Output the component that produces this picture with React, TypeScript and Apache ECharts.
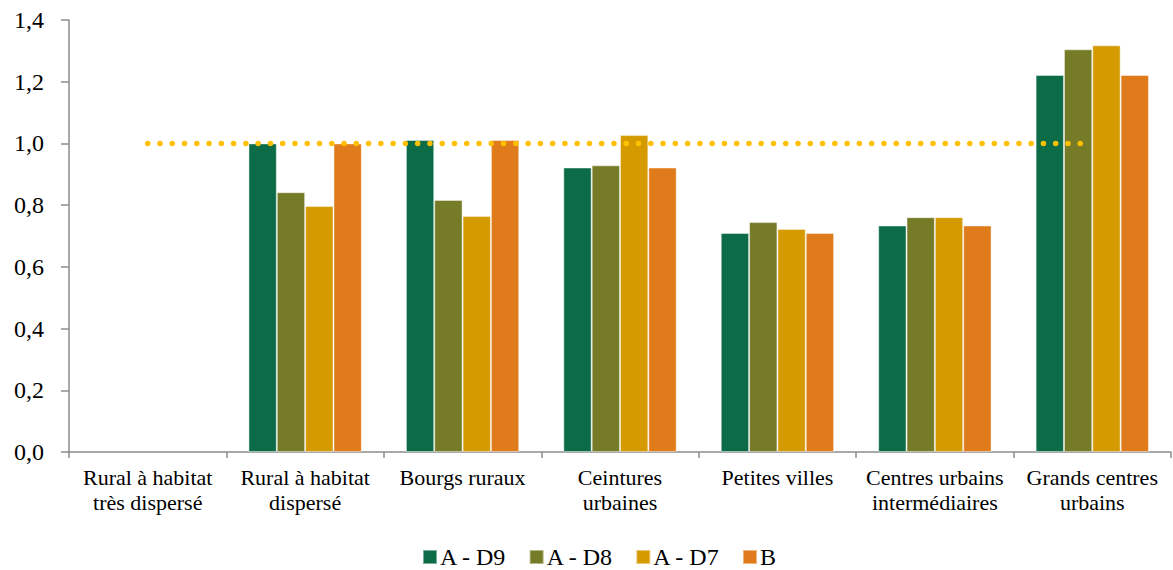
import React, { useEffect, useRef } from "react";
import * as echarts from "echarts";

const categories = [
  "Rural à habitat\ntrès dispersé",
  "Rural à habitat\ndispersé",
  "Bourgs ruraux",
  "Ceintures\nurbaines",
  "Petites villes",
  "Centres urbains\nintermédiaires",
  "Grands centres\nurbains",
];
const seriesNames = ["A - D9", "A - D8", "A - D7", "B"];
const valuesD9 = [null, 1.0, 1.011, 0.922, 0.71, 0.734, 1.222];
const valuesD8 = [null, 0.842, 0.817, 0.929, 0.745, 0.761, 1.305];
const valuesD7 = [null, 0.797, 0.765, 1.027, 0.723, 0.761, 1.318];
const valuesB = [null, 1.0, 1.011, 0.922, 0.71, 0.734, 1.222];
const referenceLine = [1, 1, 1, 1, 1, 1, 1];
const colors = ["#0B6C47", "#757B27", "#D49A00", "#E07B1B"];

export default function App() {
  const ref = useRef<HTMLDivElement>(null);
  useEffect(() => {
    if (!ref.current) return;
    const chart = echarts.init(ref.current, undefined, { renderer: "svg" });
    const font = "'Liberation Serif', 'Times New Roman', serif";
    const data = [valuesD9, valuesD8, valuesD7, valuesB];
    chart.setOption({
      animation: false,
      textStyle: { fontFamily: font },
      grid: { left: 69, right: 2, top: 20, bottom: 118, containLabel: false },
      legend: {
        data: seriesNames,
        left: 417,
        top: 540,
        icon: "rect",
        itemWidth: 14,
        itemHeight: 14,
        itemGap: 22,
        textStyle: { fontFamily: font, fontSize: 24, color: "#000", padding: [0, 0, 0, -2] },
      },
      xAxis: {
        type: "category",
        data: categories,
        boundaryGap: true,
        axisLine: { lineStyle: { color: "#8C8C8C", width: 1.5 } },
        axisTick: { show: true, length: 6, lineStyle: { color: "#8C8C8C", width: 1.5 } },
        axisLabel: {
          interval: 0,
          margin: 13,
          fontSize: 22,
          lineHeight: 25,
          color: "#000",
          fontFamily: font,
        },
        splitLine: { show: false },
      },
      yAxis: {
        type: "value",
        min: 0,
        max: 1.4,
        interval: 0.2,
        axisLine: { show: true, lineStyle: { color: "#8C8C8C", width: 1.5 } },
        axisTick: { show: true, length: 8, lineStyle: { color: "#8C8C8C", width: 1.5 } },
        axisLabel: {
          margin: 25,
          fontSize: 24,
          color: "#000",
          fontFamily: font,
          formatter: (v: number) => v.toFixed(1).replace(".", ","),
        },
        splitLine: { show: false },
      },
      series: [
        ...seriesNames.map((name, i) => ({
          name,
          type: "bar",
          data: data[i],
          barGap: "0%",
          barCategoryGap: "28%",
          itemStyle: {
            color: colors[i],
            borderColor: "rgba(255,255,255,0.45)",
            borderWidth: 1,
          },
        })),
        {
          name: "Référence",
          type: "line",
          data: referenceLine,
          symbol: "none",
          z: 5,
          lineStyle: {
            color: "#FFC000",
            width: 5.5,
            type: [0.01, 12.26],
            cap: "round",
          },
        },
      ],
    });
    return () => chart.dispose();
  }, []);
  return (
    <div
      ref={ref}
      style={{ position: "fixed", left: 0, top: 0, width: 1173, height: 570, background: "#fff" }}
    />
  );
}
